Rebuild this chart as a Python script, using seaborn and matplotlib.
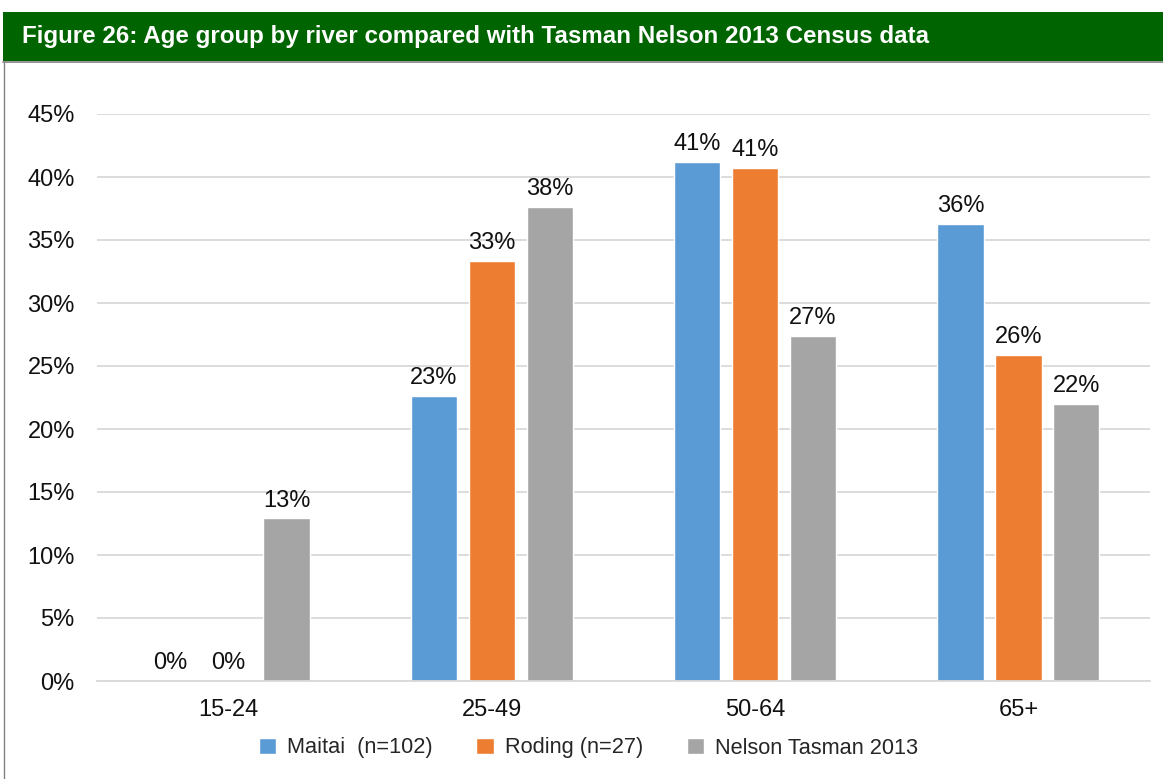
import numpy as np
import pandas as pd
import matplotlib
matplotlib.use('Agg')
from matplotlib import pyplot as plt
from matplotlib.patches import Rectangle
from matplotlib.lines import Line2D
import seaborn as sns

# Data (percent)
age_groups = ['15-24', '25-49', '50-64', '65+']
series_names = ['Maitai  (n=102)', 'Roding (n=27)', 'Nelson Tasman 2013']
maitai = [0.0, 22.6, 41.2, 36.3]
roding = [0.0, 33.3, 40.7, 25.9]
nelson = [12.9, 37.6, 27.4, 22.0]
y_ticks = [0, 5, 10, 15, 20, 25, 30, 35, 40, 45]
y_tick_labels = ['0%', '5%', '10%', '15%', '20%', '25%', '30%', '35%', '40%', '45%']
title = 'Figure 26: Age group by river compared with Tasman Nelson 2013 Census data'

blue = '#5B9BD5'
orange = '#ED7D31'
grey = '#A5A5A5'
green = '#006400'

sns.set_style('white')
plt.rcParams['font.family'] = ['Liberation Sans', 'DejaVu Sans']

df = pd.DataFrame({
    'age': age_groups * 3,
    'series': [series_names[0]] * 4 + [series_names[1]] * 4 + [series_names[2]] * 4,
    'value': maitai + roding + nelson,
})

fig = plt.figure(figsize=(11.63, 7.79), dpi=100)
ax = fig.add_axes([97 / 1163, 1 - 681 / 779, (1150 - 97) / 1163, (681 - 114) / 779])

sns.barplot(data=df, x='age', y='value', hue='series', order=age_groups,
            hue_order=series_names, palette=[blue, orange, grey],
            width=0.66, gap=0.2, ax=ax, errorbar=None, saturation=1)

for c in ax.containers:
    ax.bar_label(c, labels=['%d%%' % round(v) for v in c.datavalues],
                 padding=5, fontsize=17, color='#111111')

ax.set_ylim(0, 45)
ax.set_yticks(y_ticks)
ax.set_yticklabels(y_tick_labels)
ax.set_xlabel('')
ax.set_ylabel('')
ax.yaxis.grid(True, color='#d9d9d9', linewidth=1.3)
ax.set_axisbelow(True)
for s in ['top', 'right', 'left']:
    ax.spines[s].set_visible(False)
ax.spines['bottom'].set_color('#d9d9d9')
ax.spines['bottom'].set_linewidth(1.3)
ax.tick_params(axis='y', length=0, pad=16, labelsize=17, labelcolor='#111111')
ax.tick_params(axis='x', length=0, pad=13, labelsize=17, labelcolor='#111111')

handles, labels = ax.get_legend_handles_labels()
ax.legend(handles, labels, loc='center', bbox_to_anchor=(0.506, 1 - 748 / 779),
          bbox_transform=fig.transFigure, ncol=3, frameon=False,
          fontsize=15.7, handlelength=0.8, handleheight=0.8,
          handletextpad=0.5, columnspacing=2.0)

# Green title band and frame
fig.patches.append(Rectangle((3 / 1163, 1 - 61 / 779), 1 - 3 / 1163, 49 / 779,
                             transform=fig.transFigure, facecolor=green,
                             edgecolor='none', zorder=0))
fig.text(22 / 1163, 1 - 37 / 779, title, color='white', fontsize=17.4,
         fontweight='bold', va='center', ha='left')
fig.lines.append(Line2D([3 / 1163, 1], [1 - 61.5 / 779, 1 - 61.5 / 779],
                        transform=fig.transFigure, color='#808080', linewidth=1.2))
fig.lines.append(Line2D([3.5 / 1163, 3.5 / 1163], [0, 1 - 61.5 / 779],
                        transform=fig.transFigure, color='#808080', linewidth=1.0))

fig.savefig('out.png', dpi=100)
